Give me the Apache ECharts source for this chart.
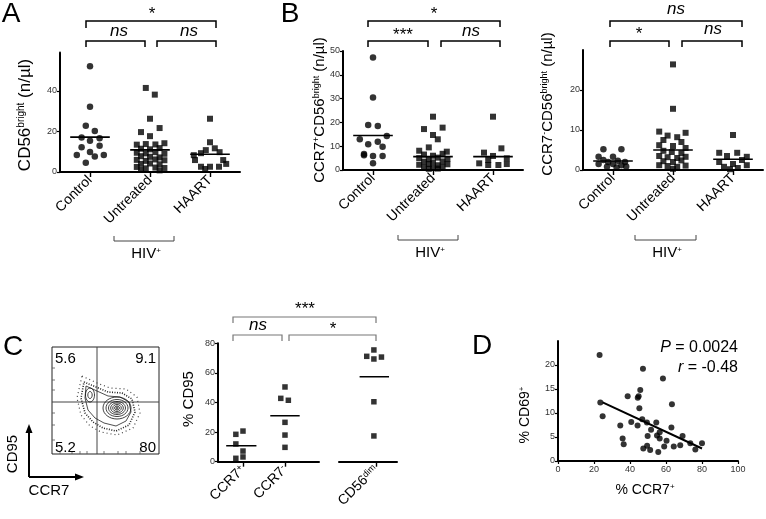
<!DOCTYPE html>
<html><head><meta charset="utf-8">
<script src="https://cdn.jsdelivr.net/npm/echarts@6/dist/echarts.min.js"></script>
<style>html,body{margin:0;padding:0;background:#fff}#c{width:766px;height:519px}</style>
</head><body><div id="c"></div>
<script>
// ---------- DATA ----------
const groupsAB = ['Control', 'Untreated', 'HAART'];
// Panel A: CD56bright (n/µl)
const aCtrl = [52.2, 32.2, 22.8, 20.3, 17.0, 15.4, 16.7, 12.2, 12.9, 9.9, 8.4, 7.6, 8.4, 4.6];
const aCtrlJit = [0, 0, -0.07, 0.08, -0.14, 0, 0.16, -0.14, 0.16, 0, -0.22, 0.08, 0.23, -0.07];
const aUntr = [41.5, 38.2, 26.3, 21.7, 19.7, 17.7, 13.5, 13.8, 13.6, 14.2, 11.5, 11.2, 11.8, 9.5, 9.2, 9.8, 9.0, 7.8, 7.5, 7.2, 6.0, 5.5, 6.2, 5.8, 4.0, 4.2, 3.8, 2.5, 1.8, 2.2, 2.0, 1.0, 0.8];
const aUntrJit = [-0.07, 0.08, 0, 0.16, -0.15, 0, -0.22, -0.07, 0.09, 0.24, -0.15, 0, 0.16, -0.22, -0.07, 0.09, 0.24, -0.15, 0, 0.16, -0.22, -0.07, 0.09, 0.24, -0.15, 0, 0.16, -0.22, -0.07, 0.09, 0.24, -0.15, 0.16];
const aHaart = [26.3, 14.7, 11.7, 10.8, 9.8, 9.3, 8.3, 5.9, 5.9, 2.6, 2.6, 2.6, 4.0, 1.5];
const aHaartJit = [0, 0, 0.08, -0.07, 0.16, -0.15, -0.27, -0.25, 0.22, -0.15, 0, 0.15, 0.27, -0.08];
const aMeans = [17.2, 10.9, 8.8];
// Panel B (left): CCR7+CD56bright (n/µl)
const b1Ctrl = [47.3, 30.5, 18.9, 18.5, 14.3, 12.9, 11.9, 10.8, 9.8, 6.7, 6.2, 5.9, 5.9, 2.8];
const b1CtrlJit = [0, 0, -0.08, 0.08, 0.23, -0.22, 0.08, -0.08, 0.16, -0.15, -0.15, 0, 0.16, 0];
const b1Untr = [22.4, 17.2, 17.8, 14.7, 12.9, 9.5, 8.1, 7.7, 6.5, 6.0, 6.8, 5.0, 4.5, 5.2, 4.6, 3.5, 3.2, 3.6, 2.2, 2.5, 2.0, 2.4, 1.2, 0.8, 1.3, 0.5, 0.6];
const b1UntrJit = [0, -0.15, 0.16, 0, 0.08, -0.07, -0.23, 0.23, -0.15, 0, 0.16, -0.23, -0.07, 0.08, 0.24, -0.15, 0, 0.16, -0.23, -0.07, 0.08, 0.24, -0.15, 0, 0.16, -0.07, 0.08];
const b1Haart = [22.4, 9.1, 7.3, 5.9, 4.9, 2.8, 2.1, 2.1, 2.5, 4.2];
const b1HaartJit = [0, 0.14, -0.15, 0, 0.23, -0.23, -0.08, 0.09, 0.23, -0.08];
const b1Means = [14.5, 5.6, 5.6];
// Panel B (right): CCR7-CD56bright (n/µl)
const b2Ctrl = [5.2, 5.2, 3.3, 3.3, 2.5, 2.0, 2.3, 2.0, 1.5, 1.5, 1.2, 0.8, 0.6, 0.9];
const b2CtrlJit = [-0.16, 0.14, -0.24, 0, -0.16, -0.08, 0.08, 0.2, -0.24, 0, 0.14, -0.1, 0.06, 0.22];
const b2Untr = [26.4, 15.3, 9.6, 9.3, 8.6, 8.2, 7.5, 7.0, 6.2, 6.0, 5.5, 4.8, 4.5, 4.2, 3.5, 3.2, 3.0, 3.3, 2.2, 2.0, 2.4, 1.2, 1.0, 0.8, 1.1, 0.3];
const b2UntrJit = [0, 0, -0.23, 0.21, -0.09, 0.07, -0.16, 0.14, -0.23, 0, 0.21, -0.16, -0.02, 0.14, -0.23, -0.09, 0.07, 0.21, -0.16, 0, 0.14, -0.23, -0.09, 0.07, 0.21, 0];
const b2Haart = [8.75, 4.3, 4.3, 3.3, 3.5, 2.5, 2.0, 1.5, 1.2, 0.8, 0.5, 0.2];
const b2HaartJit = [0, -0.23, 0.07, 0.23, -0.1, 0.15, -0.23, 0, 0.23, -0.15, 0.08, -0.05];
const b2Means = [2.25, 5.0, 2.7];
// Panel C: % CD95
const cLabels = ['{m|CCR7}{s|+}', '{m|CCR7}{s|-}', '{m|CD56}{s|dim}'];
const cCcr7p = [18.5, 20.7, 12.0, 7.2, 2.3, 3.2];
const cCcr7pJit = [-0.17, 0, -0.17, 0, -0.17, 0];
const cCcr7n = [50.5, 42.8, 41.5, 26.6, 18.0, 9.7];
const cCcr7nJit = [0, -0.1, 0.08, 0, 0, 0];
const cDim = [75.5, 71.2, 70.7, 69.4, 40.5, 17.4];
const cDimJit = [-0.05, -0.22, 0.13, -0.05, -0.05, -0.05];
const cMeans = [10.8, 31.0, 57.4];
const cQuadrants = ['5.6', '9.1', '5.2', '80'];
// Panel D: % CD69+ vs % CCR7+
const dCcr7 = [23.1, 23.5, 24.8, 47.2, 58.3, 38.7, 45.7, 44.8, 44.3, 45.2, 63.3, 46.8, 34.6, 40.7, 44.2, 35.9, 36.5, 49.4, 54.6, 51.7, 49.8, 55.0, 56.5, 56.5, 63.0, 69.2, 60.3, 47.4, 51.2, 49.5, 55.7, 59.0, 64.3, 67.9, 73.5, 80.0, 76.3];
const dCd69 = [22.1, 12.2, 9.3, 19.2, 17.2, 13.5, 14.8, 13.5, 13.2, 11.0, 11.8, 8.7, 7.4, 8.1, 7.4, 4.7, 3.5, 8.0, 8.0, 6.5, 5.2, 5.3, 6.0, 4.7, 7.0, 5.2, 4.2, 2.6, 2.3, 3.2, 1.9, 3.0, 3.0, 3.3, 3.7, 3.7, 2.4];
const dFitX = [24.8, 80];
const dFitY = [12.2, 2.6];
const dStats = ['0.0024', '-0.48'];

// ---------- HELPERS ----------
const FF = "'Liberation Sans', Arial, Helvetica, sans-serif";
const richLab = {
  m: {fontSize: 14, fontFamily: FF, color: '#000'},
  s: {fontSize: 9, fontFamily: FF, color: '#000', verticalAlign: 'top', lineHeight: 10}
};
function yAx(gi, max, ticks, show) {
  return {type: 'value', gridIndex: gi, min: 0, max: max, show: show !== false,
    axisLine: {show: true, lineStyle: {color: '#000', width: 2}},
    axisTick: {show: true, customValues: ticks, length: 3, lineStyle: {color: '#000', width: 1.2}},
    axisLabel: {customValues: ticks, fontSize: 9, color: '#333', margin: 3, fontFamily: FF},
    splitLine: {show: false}};
}
function xCat(gi, min, max, ticks, labels) {
  return {type: 'value', gridIndex: gi, min: min, max: max,
    axisLine: {show: true, onZero: false, lineStyle: {color: '#000', width: 2}},
    axisTick: {show: true, customValues: ticks, length: 5, lineStyle: {color: '#000', width: 1.4}},
    axisLabel: {customValues: ticks, rotate: 45, margin: 6, fontSize: 14, fontFamily: FF, color: '#000',
      rich: richLab,
      formatter: v => labels[ticks.indexOf(Math.round(v))]},
    splitLine: {show: false}};
}
function dots(xi, center, vals, jit, symbol, size) {
  return {type: 'scatter', xAxisIndex: xi, yAxisIndex: xi, symbol: symbol, symbolSize: size,
    itemStyle: {color: '#000'}, silent: true, z: 3,
    data: vals.map((v, i) => [center + jit[i], v])};
}
function meanLine(xi, center, half, m) {
  return {type: 'line', xAxisIndex: xi, yAxisIndex: xi, data: [[center - half, m], [center + half, m]],
    symbol: 'none', silent: true, lineStyle: {color: '#000', width: 1.6}, z: 4};
}
function txt(x, y, text, size, extra) {
  return Object.assign({type: 'text', x: x, y: y, silent: true,
    style: Object.assign({text: text, fontSize: size, fontFamily: FF, fill: '#000', align: 'center', verticalAlign: 'middle'}, (extra && extra.style) || {})},
    extra && extra.rotation ? {rotation: extra.rotation} : {});
}
function pl(points, color, w, dash) {
  return {type: 'polyline', silent: true, shape: {points: points},
    style: {stroke: color || '#000', lineWidth: w || 1.5, fill: null, lineDash: dash || null}};
}
function bracket(x1, x2, y, drop, color, w) { return pl([[x1, y + drop], [x1, y], [x2, y], [x2, y + drop]], color, w); }
function hiv(x1, x2, y, tx) {
  return [pl([[x1, y - 5], [x1, y], [x2, y], [x2, y - 5]], '#444', 1),
    txt(tx, y + 13, '{m|HIV}{s|+}', 14, {style: {rich: {m: {fontSize: 15, fontFamily: FF}, s: {fontSize: 8, fontFamily: FF, verticalAlign: 'top', lineHeight: 9}}}})];
}
function ell(cx, cy, rx, ry, w, dash) {
  return {type: 'ellipse', silent: true, shape: {cx: cx, cy: cy, rx: rx, ry: ry},
    style: {fill: null, stroke: '#111', lineWidth: w || 0.8, lineDash: dash || null}};
}
const titleRich = (fs) => ({m: {fontSize: fs, fontFamily: FF}, s: {fontSize: Math.round(fs * 0.58), fontFamily: FF, verticalAlign: 'top', lineHeight: Math.round(fs * 0.62)}});
const R90 = Math.PI / 2;

// ---------- GRAPHICS ----------
const g = [];
// panel letters
g.push(txt(11, 14, 'A', 28), txt(290, 14, 'B', 28), txt(13, 347, 'C', 28), txt(482, 346, 'D', 28));
// y titles
g.push(txt(25, 115, '{m|CD56}{s|bright}{m| (n/µl)}', 17, {rotation: R90, style: {rich: titleRich(17)}}));
g.push(txt(320, 110, '{m|CCR7}{s|+}{m|CD56}{s|bright}{m| (n/µl)}', 15, {rotation: R90, style: {rich: titleRich(15)}}));
g.push(txt(548, 104, '{m|CCR7}{s|-}{m|CD56}{s|bright}{m| (n/µl)}', 15, {rotation: R90, style: {rich: titleRich(15)}}));
g.push(txt(189, 399, '% CD95', 15, {rotation: R90}));
g.push(txt(525, 415, '{m|% CD69}{s|+}', 14, {rotation: R90, style: {rich: titleRich(14)}}));
g.push(txt(645, 490, '{m|% CCR7}{s|+}', 14, {style: {rich: titleRich(14)}}));
// significance brackets A
const ital = {style: {fontStyle: 'italic'}};
g.push(bracket(86, 216, 21, 7), bracket(86, 145, 41, 6), bracket(157, 216, 41, 6));
g.push(txt(152, 14, '*', 17), txt(119, 31.5, 'ns', 17, ital), txt(189, 31.5, 'ns', 17, ital));
// B left
g.push(bracket(368, 500, 21, 6), bracket(368, 428, 41, 6), bracket(441, 500, 41, 6));
g.push(txt(434, 14, '*', 17), txt(403, 35, '***', 17), txt(471, 31, 'ns', 17, ital));
// B right
g.push(bracket(610, 742, 21, 6), bracket(610, 669, 41, 6), bracket(682, 742, 41, 6));
g.push(txt(676, 9.5, 'ns', 17, ital), txt(639, 34, '*', 17), txt(713, 29.5, 'ns', 17, ital));
// HIV+ brackets
g.push(...hiv(114, 174, 241, 146), ...hiv(398, 458, 240, 430), ...hiv(635, 696, 240, 667));
// C brackets
g.push(bracket(233, 376, 317, 6, '#777', 1.2), bracket(233, 282, 335, 6, '#777', 1.2), bracket(289, 376, 335, 6, '#777', 1.2));
g.push(txt(305, 309, '***', 17), txt(258, 325, 'ns', 17, ital), txt(333, 329, '*', 17));
// flow plot
g.push({type: 'rect', silent: true, shape: {x: 52, y: 347, width: 107, height: 107}, style: {fill: null, stroke: '#222', lineWidth: 1}});
g.push(pl([[97, 347], [97, 454]], '#444', 1), pl([[52, 402], [159, 402]], '#444', 1));
[368, 380, 390, 413, 425, 440].forEach(y => g.push(pl([[52, y], [55, y]], '#555', 0.8)));
[60, 72, 80, 87, 104, 118, 126, 140].forEach(x => g.push(pl([[x, 454], [x, 451]], '#555', 0.8)));
const outer = [[84, 382], [96, 387], [108, 392], [122, 393], [132, 399], [135, 412], [129, 425], [116, 431], [103, 428], [93, 422], [85, 413], [81, 398], [84, 382]];
g.push(pl(outer, '#222', 1.6, [1, 1.5]));
const outer2 = [[82, 376], [97, 383], [110, 388], [126, 389], [137, 397], [140, 413], [133, 428], [117, 435], [101, 432], [90, 426], [81, 415], [77, 398], [82, 376]];
g.push(pl(outer2, '#444', 1.2, [1, 3]));
g.push(pl([[86, 386], [97, 391], [108, 396], [120, 397], [129, 402], [131, 412], [126, 421], [116, 426], [104, 423], [95, 418], [88, 410], [85, 398], [86, 386]], '#222', 0.8));
g.push(ell(90, 395, 4.5, 7, 0.8), ell(90, 395, 2.2, 3.5, 0.8));
[[14, 11], [11, 8.5], [8.5, 6.5], [6.3, 5], [4.3, 3.5], [2.5, 2], [1.2, 1]].forEach(r => g.push(ell(117, 408, r[0], r[1], 0.8)));
g.push(txt(55, 359, cQuadrants[0], 15, {style: {align: 'left'}}), txt(156, 359, cQuadrants[1], 15, {style: {align: 'right'}}),
  txt(55, 448, cQuadrants[2], 15, {style: {align: 'left'}}), txt(156, 448, cQuadrants[3], 15, {style: {align: 'right'}}));
// arrows
g.push(pl([[29, 477], [29, 432]], '#000', 2), pl([[29, 477], [76, 477]], '#000', 2));
g.push({type: 'polygon', silent: true, shape: {points: [[29, 424], [25.5, 433], [32.5, 433]]}, style: {fill: '#000'}});
g.push({type: 'polygon', silent: true, shape: {points: [[84, 477], [75, 473.5], [75, 480.5]]}, style: {fill: '#000'}});
g.push(txt(13, 454, 'CD95', 15, {rotation: R90}), txt(49, 491, 'CCR7', 15));
// D stats
const statRich = {i: {fontStyle: 'italic', fontSize: 16, fontFamily: FF}, n: {fontSize: 16, fontFamily: FF}};
g.push(txt(738, 348, '{i|P}{n| = ' + dStats[0] + '}', 16, {style: {align: 'right', rich: statRich}}));
g.push(txt(738, 368, '{i|r}{n| = ' + dStats[1] + '}', 16, {style: {align: 'right', rich: statRich}}));

// ---------- OPTION ----------
const option = {
  animation: false,
  backgroundColor: '#fff',
  grid: [
    {left: 60, top: 52.5, width: 180, height: 119.5, outerBoundsMode: 'none'},
    {left: 343, top: 51, width: 180, height: 119, outerBoundsMode: 'none'},
    {left: 583, top: 50, width: 180, height: 120, outerBoundsMode: 'none'},
    {left: 218, top: 343.3, width: 101, height: 118.4, outerBoundsMode: 'none'},
    {left: 339, top: 343.3, width: 58, height: 118.4, outerBoundsMode: 'none'},
    {left: 558, top: 341, width: 180, height: 120, outerBoundsMode: 'none'}
  ],
  xAxis: [
    xCat(0, 0.5, 3.5, [1, 2, 3], groupsAB),
    xCat(1, 0.5, 3.5, [1, 2, 3], groupsAB),
    xCat(2, 0.5, 3.5, [1, 2, 3], groupsAB),
    xCat(3, 0.405, 2.81, [1, 2], cLabels.slice(0, 2)),
    xCat(4, 2.12, 3.5, [3], cLabels.slice(2)),
    {type: 'value', gridIndex: 5, min: 0, max: 100,
      axisLine: {show: true, lineStyle: {color: '#000', width: 2}},
      axisTick: {show: true, customValues: [0, 20, 40, 60, 80, 100], length: 3, lineStyle: {color: '#000', width: 1.2}},
      axisLabel: {customValues: [0, 20, 40, 60, 80, 100], fontSize: 9, color: '#333', margin: 4, fontFamily: FF},
      splitLine: {show: false}}
  ],
  yAxis: [
    yAx(0, 59, [0, 20, 40]),
    yAx(1, 50, [0, 10, 20, 30, 40, 50]),
    yAx(2, 30, [0, 10, 20]),
    yAx(3, 80, [0, 20, 40, 60, 80]),
    yAx(4, 80, [0], false),
    yAx(5, 25, [0, 5, 10, 15, 20])
  ],
  series: [
    dots(0, 1, aCtrl, aCtrlJit, 'circle', 6.5), dots(0, 2, aUntr, aUntrJit, 'rect', 6), dots(0, 3, aHaart, aHaartJit, 'rect', 6),
    meanLine(0, 1, 0.33, aMeans[0]), meanLine(0, 2, 0.33, aMeans[1]), meanLine(0, 3, 0.33, aMeans[2]),
    dots(1, 1, b1Ctrl, b1CtrlJit, 'circle', 6.5), dots(1, 2, b1Untr, b1UntrJit, 'rect', 6), dots(1, 3, b1Haart, b1HaartJit, 'rect', 6),
    meanLine(1, 1, 0.33, b1Means[0]), meanLine(1, 2, 0.33, b1Means[1]), meanLine(1, 3, 0.33, b1Means[2]),
    dots(2, 1, b2Ctrl, b2CtrlJit, 'circle', 6.5), dots(2, 2, b2Untr, b2UntrJit, 'rect', 6), dots(2, 3, b2Haart, b2HaartJit, 'rect', 6),
    meanLine(2, 1, 0.33, b2Means[0]), meanLine(2, 2, 0.33, b2Means[1]), meanLine(2, 3, 0.33, b2Means[2]),
    dots(3, 1, cCcr7p, cCcr7pJit, 'rect', 5.5), dots(3, 2, cCcr7n, cCcr7nJit, 'rect', 5.5),
    meanLine(3, 0.96, 0.36, cMeans[0]), meanLine(3, 2, 0.35, cMeans[1]),
    dots(4, 3, cDim, cDimJit, 'rect', 5.5), meanLine(4, 2.96, 0.35, cMeans[2]),
    {type: 'scatter', xAxisIndex: 5, yAxisIndex: 5, symbol: 'circle', symbolSize: 6, itemStyle: {color: '#000'}, silent: true,
      data: dCcr7.map((x, i) => [x, dCd69[i]])},
    {type: 'line', xAxisIndex: 5, yAxisIndex: 5, symbol: 'none', silent: true, lineStyle: {color: '#000', width: 2},
      data: dFitX.map((x, i) => [x, dFitY[i]])}
  ],
  graphic: {elements: g}
};
const chart = echarts.init(document.getElementById('c'), null, {renderer: 'canvas', width: 766, height: 519});
chart.setOption(option);
</script></body></html>
